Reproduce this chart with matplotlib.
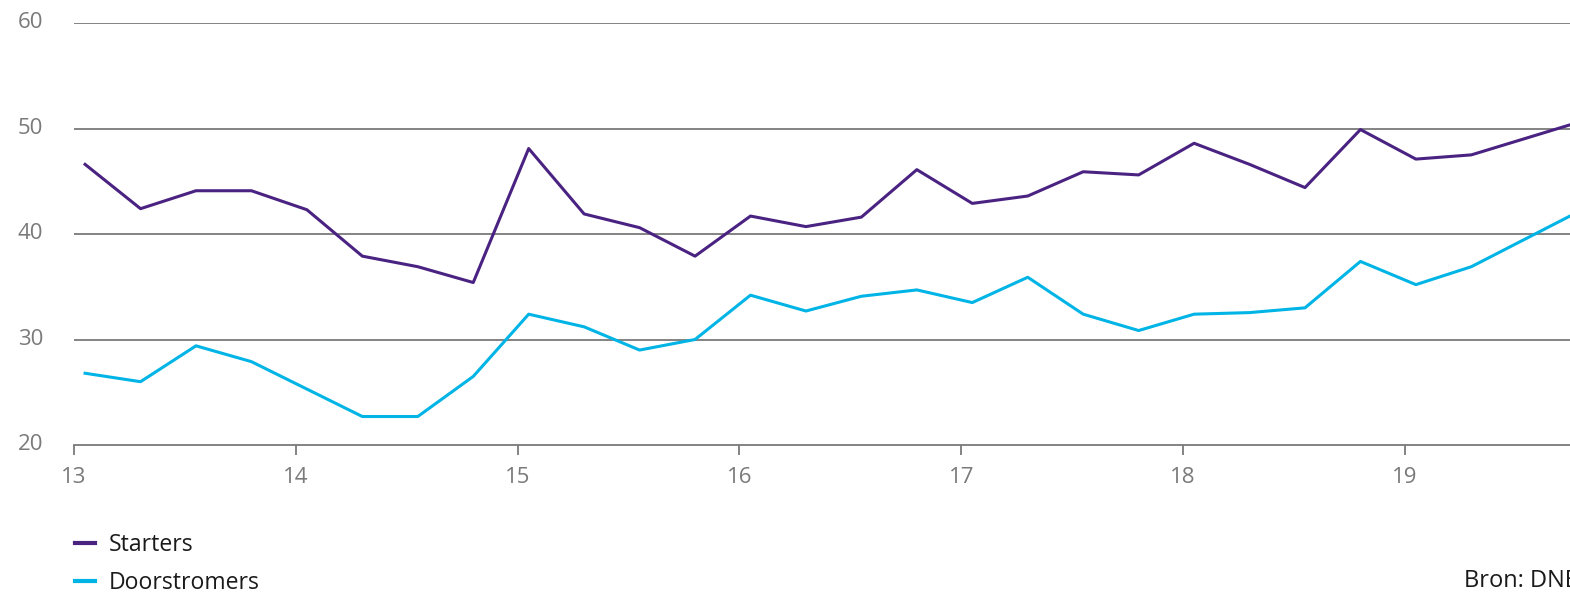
import matplotlib
matplotlib.use("Agg")
import matplotlib.pyplot as plt
from matplotlib.transforms import ScaledTranslation

# quarterly data, 2013 Q1 .. 2019 Q4
years = [13, 14, 15, 16, 17, 18, 19]
quarters = [1, 2, 3, 4]
starters = [46.6, 42.4, 44.1, 44.1,
            42.3, 37.9, 36.9, 35.4,
            48.1, 41.9, 40.6, 37.9,
            41.7, 40.7, 41.6, 46.1,
            42.9, 43.6, 45.9, 45.6,
            48.6, 46.6, 44.4, 49.9,
            47.1, 47.5, 49.1, 50.7]
doorstromers = [26.8, 26.0, 29.4, 27.9,
                25.3, 22.7, 22.7, 26.5,
                32.4, 31.2, 29.0, 30.0,
                34.2, 32.7, 34.1, 34.7,
                33.5, 35.9, 32.4, 30.85,
                32.4, 32.55, 33.0, 37.4,
                35.2, 36.9, 39.6, 42.3]
yticks = [20, 30, 40, 50, 60]

x = [y + 0.05 + (q - 1) * 0.25 for y in years for q in quarters]

plt.rcParams['font.family'] = ['Open Sans', 'DejaVu Sans']

fig = plt.figure(figsize=(15.7, 5.95), dpi=100)
ax = fig.add_axes([74 / 1570, 1 - 445 / 595, 1 - 74 / 1570, (445 - 23) / 595])

purple = '#4a2382'
cyan = '#00b4e6'
grey = '#7a7a7a'
fs = 16

ax.plot(x, starters, color=purple, lw=2.2, label='Starters', zorder=3)
ax.plot(x, doorstromers, color=cyan, lw=2.2, label='Doorstromers', zorder=3)

ax.set_xlim(13, 13 + (1570 - 74) / 221.8)
ax.set_ylim(20, 60)
ax.set_yticks(yticks)
ax.set_xticks(years)
ax.set_xticklabels([str(y) for y in years])

for v in yticks[1:]:
    ax.axhline(v, color=grey, lw=1.3, zorder=1)

for s in ['top', 'right', 'left']:
    ax.spines[s].set_visible(False)
ax.spines['bottom'].set_color(grey)
ax.spines['bottom'].set_linewidth(1.3)

ax.tick_params(axis='y', length=0, pad=22, labelsize=fs, labelcolor=grey)
ax.tick_params(axis='x', length=7, width=1.3, color=grey, pad=8.5,
               labelsize=fs, labelcolor=grey)
up = ScaledTranslation(0, 2 / 72, fig.dpi_scale_trans)
for lab in ax.get_yticklabels():
    lab.set_transform(lab.get_transform() + up)

leg = fig.legend(loc='upper left', bbox_to_anchor=(75 / 1570, 1 - 533 / 595),
                 frameon=False, fontsize=16.6, handlelength=0.85,
                 handletextpad=0.6, labelspacing=0.6,
                 borderpad=0, borderaxespad=0)
for h in leg.get_lines():
    h.set_linewidth(3)
for t in leg.get_texts():
    t.set_color('#1a1a1a')

fig.text(1464 / 1570, 1 - 581 / 595, 'Bron: DNB', fontsize=17,
         color='#1a1a1a', va='center', ha='left')

plt.savefig('out.png', dpi=100)
